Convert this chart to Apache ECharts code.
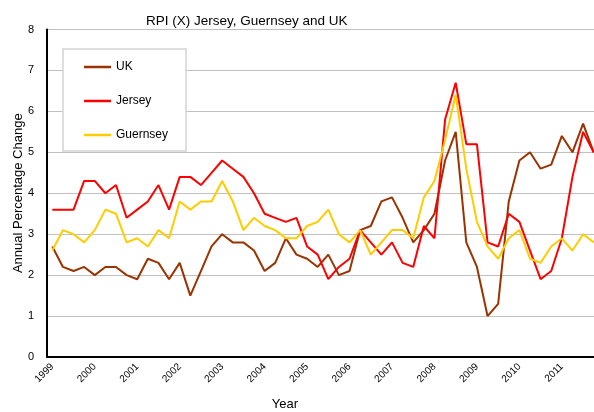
<!DOCTYPE html>
<html>
<head>
<meta charset="utf-8">
<script src="https://cdn.jsdelivr.net/npm/echarts@6/dist/echarts.min.js"></script>
<style>
  html, body { margin: 0; padding: 0; background: #fff; }
  #chart { width: 594px; height: 412px; }
</style>
</head>
<body>
<div id="chart"></div>
<script>
// quarterly RPI(X) annual % change, 1999 Q1 .. 2011 Q4
const years = ['1999', '2000', '2001', '2002', '2003', '2004', '2005', '2006', '2007', '2008', '2009', '2010', '2011']
const quarters = ['Q1', 'Q2', 'Q3', 'Q4']

const uk = [
  2.7, 2.2, 2.1, 2.2, 2.0, 2.2, 2.2, 2.0, 1.9, 2.4, 2.3, 1.9, 2.3,
  1.5, 2.1, 2.7, 3.0, 2.8, 2.8, 2.6, 2.1, 2.3, 2.9, 2.5, 2.4, 2.2,
  2.5, 2.0, 2.1, 3.1, 3.2, 3.8, 3.9, 3.4, 2.8, 3.1, 3.5, 4.8, 5.5,
  2.8, 2.2, 1.0, 1.3, 3.8, 4.8, 5.0, 4.6, 4.7, 5.4, 5.0, 5.7, 5.0
]
const jersey = [
  3.6, 3.6, 3.6, 4.3, 4.3, 4.0, 4.2, 3.4, 3.6, 3.8, 4.2, 3.6, 4.4,
  4.4, 4.2, 4.5, 4.8, 4.6, 4.4, 4.0, 3.5, 3.4, 3.3, 3.4, 2.7, 2.5,
  1.9, 2.2, 2.4, 3.1, 2.8, 2.5, 2.8, 2.3, 2.2, 3.2, 2.9, 5.8, 6.7,
  5.2, 5.2, 2.8, 2.7, 3.5, 3.3, 2.6, 1.9, 2.1, 2.9, 4.4, 5.5, 5.0
]
const guernsey = [
  2.6, 3.1, 3.0, 2.8, 3.1, 3.6, 3.5, 2.8, 2.9, 2.7, 3.1, 2.9, 3.8,
  3.6, 3.8, 3.8, 4.3, 3.8, 3.1, 3.4, 3.2, 3.1, 2.9, 2.9, 3.2, 3.3,
  3.6, 3.0, 2.8, 3.1, 2.5, 2.8, 3.1, 3.1, 2.9, 3.9, 4.3, 5.3, 6.4,
  4.6, 3.3, 2.7, 2.4, 2.9, 3.1, 2.4, 2.3, 2.7, 2.9, 2.6, 3.0, 2.8
]

const categories = []
years.forEach(y => quarters.forEach(q => categories.push(y + ' ' + q)))

const font = '"Liberation Sans", Arial, sans-serif'

const chart = echarts.init(document.getElementById('chart'))

const option = {
  backgroundColor: '#fff',
  animation: false,
  textStyle: { fontFamily: font },
  title: {
    text: 'RPI (X) Jersey, Guernsey and UK',
    left: 141,
    top: 9,
    textStyle: { fontSize: 13.5, fontWeight: 'normal', color: '#000', fontFamily: font },
  },
  legend: {
    orient: 'vertical',
    left: 63,
    top: 49,
    padding: [11, 18, 9, 21],
    itemGap: 20,
    itemWidth: 27,
    itemHeight: 2.5,
    icon: 'rect',
    backgroundColor: '#fff',
    borderColor: '#d4d4d4',
    borderWidth: 1.5,
    textStyle: { fontSize: 12, color: '#000', fontFamily: font, lineHeight: 14 },
    data: ['UK', 'Jersey', 'Guernsey'],
  },
  grid: { left: 47, right: -5, top: 29.5, bottom: 55, containLabel: false, outerBoundsMode: 'none' },
  xAxis: {
    type: 'category',
    data: categories,
    boundaryGap: true,
    name: 'Year',
    nameLocation: 'middle',
    nameGap: 41,
    nameMoveOverlap: false,
    nameTextStyle: { fontSize: 13, color: '#000', fontFamily: font, padding: [0, 76, 0, 0] },
    axisLine: { lineStyle: { color: '#000', width: 2 } },
    axisTick: { show: false },
    axisLabel: {
      interval: 3,
      rotate: 45,
      fontSize: 10,
      color: '#000',
      margin: 8,
      formatter: v => v.split(' ')[0],
    },
    splitLine: { show: false },
  },
  yAxis: {
    type: 'value',
    min: 0,
    max: 8,
    interval: 1,
    name: 'Annual Percentage Change',
    nameLocation: 'middle',
    nameGap: 22,
    nameMoveOverlap: false,
    nameTextStyle: { fontSize: 13, color: '#000', fontFamily: font },
    axisLine: { show: true, lineStyle: { color: '#000', width: 2 } },
    axisTick: { show: false },
    axisLabel: { fontSize: 11, color: '#000', margin: 13 },
    splitLine: { lineStyle: { color: '#c0c0c0', width: 1 } },
  },
  series: [
    {
      name: 'UK',
      type: 'line',
      data: uk,
      showSymbol: false,
      symbol: 'none',
      itemStyle: { color: '#993300' },
      lineStyle: { color: '#993300', width: 2 },
    },
    {
      name: 'Jersey',
      type: 'line',
      data: jersey,
      showSymbol: false,
      symbol: 'none',
      itemStyle: { color: '#ff0000' },
      lineStyle: { color: '#ff0000', width: 2 },
    },
    {
      name: 'Guernsey',
      type: 'line',
      data: guernsey,
      showSymbol: false,
      symbol: 'none',
      itemStyle: { color: '#ffcc00' },
      lineStyle: { color: '#ffcc00', width: 2 },
    },
  ],
}

chart.setOption(option)
</script>
</body>
</html>
